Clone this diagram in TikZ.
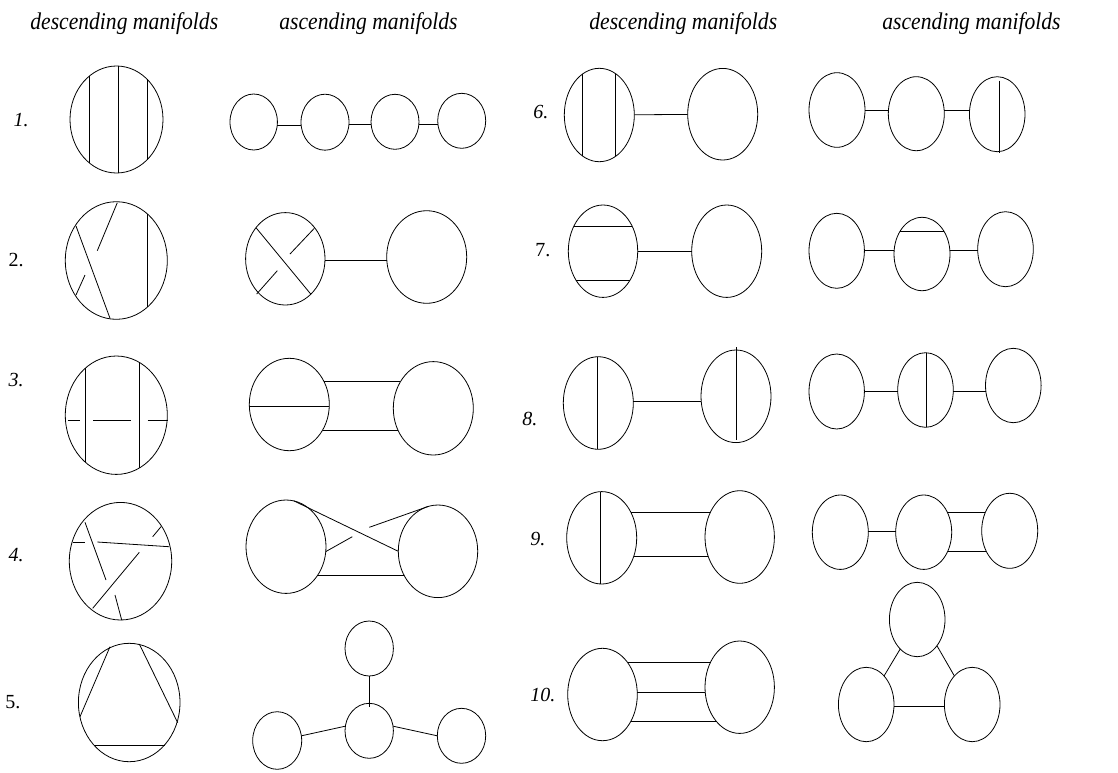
\documentclass[tikz,border=0pt]{standalone}
\usepackage{fontspec}
\usepackage{graphicx}
\setmainfont{Liberation Serif}
\usetikzlibrary{shapes.geometric}
% ellipse node that remembers its geometry
\newcommand\mkell[5]{%
  \node[ell, minimum width={2*#4pt}, minimum height={2*#5pt}] (#1) at (#2,#3) {};%
  \expandafter\gdef\csname ecx#1\endcsname{#2}%
  \expandafter\gdef\csname ecy#1\endcsname{#3}%
  \expandafter\gdef\csname erx#1\endcsname{#4}%
  \expandafter\gdef\csname ery#1\endcsname{#5}%
}
% horizontal connector from right border of #1 to left border of #2 at height #3
\newcommand\bridge[3]{%
  \pgfmathsetmacro\mybta{(#3-\csname ecy#1\endcsname)/\csname ery#1\endcsname}%
  \pgfmathsetmacro\mybxa{\csname ecx#1\endcsname+\csname erx#1\endcsname*sqrt(1-(\mybta)*(\mybta))}%
  \pgfmathsetmacro\mybtb{(#3-\csname ecy#2\endcsname)/\csname ery#2\endcsname}%
  \pgfmathsetmacro\mybxb{\csname ecx#2\endcsname-\csname erx#2\endcsname*sqrt(1-(\mybtb)*(\mybtb))}%
  \draw (\mybxa,#3) -- (\mybxb,#3);%
}
% vertical chord of ellipse #1 at x=#2
\newcommand\vchord[2]{%
  \pgfmathsetmacro\myvt{(#2-\csname ecx#1\endcsname)/\csname erx#1\endcsname}%
  \pgfmathsetmacro\myvh{\csname ery#1\endcsname*sqrt(1-(\myvt)*(\myvt))}%
  \draw (#2,{\csname ecy#1\endcsname-\myvh}) -- (#2,{\csname ecy#1\endcsname+\myvh});%
}
% horizontal chord of ellipse #1 at y=#2
\newcommand\hchord[2]{%
  \pgfmathsetmacro\myht{(#2-\csname ecy#1\endcsname)/\csname ery#1\endcsname}%
  \pgfmathsetmacro\myhw{\csname erx#1\endcsname*sqrt(1-(\myht)*(\myht))}%
  \draw ({\csname ecx#1\endcsname-\myhw},#2) -- ({\csname ecx#1\endcsname+\myhw},#2);%
}
\begin{document}
\begin{tikzpicture}[x=1pt,y=-1pt,line width=0.8pt,
  ell/.style={draw, ellipse, inner sep=0pt, outer sep=0pt},
  hdr/.style={anchor=base west, inner sep=0pt, font=\fontsize{24}{24}\selectfont\itshape},
  lab/.style={anchor=base west, inner sep=0pt, font=\fontsize{20}{20}\selectfont},
  labi/.style={lab, font=\fontsize{20}{20}\selectfont\itshape}]
\fill[white] (0,0) rectangle (1118,772);
\useasboundingbox (0,0) rectangle (1118,772);

% headers
\node[hdr] (h1) at (30,29.5) {\scalebox{0.9}[1]{descending manifolds}};
\node[hdr] (h2) at (279,29.5) {\scalebox{0.9}[1]{ascending manifolds}};
\node[hdr] (h3) at (589,29.5) {\scalebox{0.9}[1]{descending manifolds}};
\node[hdr] (h4) at (882,29.5) {\scalebox{0.9}[1]{ascending manifolds}};

% row labels
\node[labi] (n1) at (13.3,126.7) {1.};
\node[lab]  (n2) at (8.3,266.7) {2.};
\node[labi] (n3) at (8.3,386.7) {3.};
\node[labi] (n4) at (8.3,561.7) {4.};
\node[lab]  (n5) at (5,708.3) {5.};
\node[labi] (n6) at (533,118.3) {6.};
\node[lab]  (n7) at (535,256.7) {7.};
\node[labi] (n8) at (522,425) {8.};
\node[labi] (n9) at (530,545) {9.};
\node[labi] (n10) at (530,701.7) {10.};

% ---------- row 1 ----------
\mkell{d1}{116.5}{119.5}{46.5}{53.5}
\vchord{d1}{89}\vchord{d1}{118.7}\vchord{d1}{147.3}
\mkell{a1a}{253.7}{122}{23.7}{28}
\mkell{a1b}{325}{122.2}{24}{28}
\mkell{a1c}{395}{121.8}{24}{27.5}
\mkell{a1d}{461.7}{120.8}{24}{27.5}
\bridge{a1a}{a1b}{125}\bridge{a1b}{a1c}{124.3}\bridge{a1c}{a1d}{124}

% ---------- row 2 ----------
\mkell{d2}{116.3}{260.5}{51}{58.8}
\draw (76,226) -- (110,318.3);
\draw (117.3,202.7) -- (97.3,250.7);
\draw (85,275) -- (76,295);
\vchord{d2}{147.3}
\mkell{a2a}{285.3}{258.8}{39.7}{46.2}
\draw (256,227.7) -- (310.7,294);
\draw (314.3,228.3) -- (290,254);
\draw (277.3,270.7) -- (256.7,294);
\mkell{a2b}{426.7}{257}{40}{46.3}
\bridge{a2a}{a2b}{260}

% ---------- row 3 ----------
\mkell{d3}{116.3}{415.2}{51}{59.2}
\vchord{d3}{85}\vchord{d3}{139}
\draw (67.7,420.3) -- (80,420.3);
\draw (93.3,420.3) -- (130.7,420.3);
\draw (147.7,420.3) -- (168.3,420.3);
\mkell{a3a}{289.3}{404.5}{40}{46.2}
\hchord{a3a}{406}
\mkell{a3b}{433.3}{408.3}{40}{46.7}
\bridge{a3a}{a3b}{381.7}\bridge{a3a}{a3b}{430}

% ---------- row 4 ----------
\mkell{d4}{120.5}{561.2}{51.2}{58.8}
\draw (72.7,542) -- (85,542);
\draw (97.3,542) -- (169,546.7);
\draw (85,522.3) -- (106,580);
\draw (115,595) -- (121.7,620);
\draw (92.7,608.3) -- (139.3,552.3);
\draw (152.7,536.7) -- (161,526.7);
\mkell{a4a}{286}{546.7}{40}{46.7}
\mkell{a4b}{438}{551.3}{39.7}{46.3}
\draw (a4a.80.8) -- (a4b.180);
\draw (a4b.102.3) -- (369.3,527.3);
\draw (352.3,536.7) -- (a4a.-7.5);
\bridge{a4a}{a4b}{575}

% ---------- row 5 ----------
\mkell{d5}{129.2}{702.5}{50.8}{59.2}
\draw (110,646.7) -- (80,716.7);
\draw (139.3,644) -- (177.7,722.7);
\hchord{d5}{745}
\mkell{a5t}{369.2}{648.5}{24.2}{27.5}
\mkell{a5c}{369.2}{730.8}{24.2}{27.5}
\mkell{a5l}{277.2}{740.5}{24.5}{28.8}
\mkell{a5r}{461.5}{735.8}{24.2}{27.5}
\draw (a5t.south) -- ([yshift=-3.4pt]a5c.north);
\draw (a5c.169) -- (a5l.11);
\draw (a5c.11) -- (a5r.180);

% ---------- row 6 ----------
\mkell{d6a}{599.3}{115}{35}{46.7}
\vchord{d6a}{582.3}\vchord{d6a}{615.7}
\mkell{d6b}{722.7}{114.2}{35}{45.8}
\draw (d6a) -- (d6b);
\mkell{a6a}{837}{110}{28}{37.3}
\mkell{a6b}{916.3}{113.7}{28}{37}
\mkell{a6c}{997.2}{114.2}{27.8}{37.5}
\draw (999.3,80.7) -- (999.3,153.3);
\bridge{a6a}{a6b}{110}\bridge{a6b}{a6c}{110}

% ---------- row 7 ----------
\mkell{d7a}{603}{251.2}{34.7}{46.2}
\hchord{d7a}{226.7}\hchord{d7a}{280}
\mkell{d7b}{726.7}{251.2}{35}{46.2}
\draw (d7a) -- (d7b);
\mkell{a7a}{836.7}{250.8}{27.7}{37.5}
\mkell{a7b}{922}{254}{28}{36.7}
\hchord{a7b}{231.7}
\mkell{a7c}{1005.5}{249.2}{27.8}{37.5}
\bridge{a7a}{a7b}{250.7}\bridge{a7b}{a7c}{250.7}

% ---------- row 8 ----------
\mkell{d8a}{598.3}{403}{35}{46.3}
\vchord{d8a}{597.3}
\mkell{d8b}{736}{396.3}{35}{46.3}
\draw (736,347.3) -- (736,440);
\bridge{d8a}{d8b}{401}
\mkell{a8a}{836.7}{391.5}{27.7}{37.5}
\mkell{a8b}{925.5}{390}{27.8}{37.3}
\vchord{a8b}{926}
\mkell{a8c}{1013.3}{385.5}{27.8}{37.2}
\bridge{a8a}{a8b}{391}\bridge{a8b}{a8c}{391.7}

% ---------- row 9 ----------
\mkell{d9a}{601.7}{537.8}{35}{46.2}
\vchord{d9a}{600.7}
\mkell{d9b}{739.7}{537}{34.7}{46.3}
\bridge{d9a}{d9b}{512.3}\bridge{d9a}{d9b}{556.7}
\mkell{a9a}{840.3}{532.2}{28}{37.2}
\mkell{a9b}{923.7}{532.2}{28}{37.2}
\mkell{a9c}{1009.7}{530.8}{28}{37.5}
\bridge{a9a}{a9b}{531.7}
\bridge{a9b}{a9c}{512.3}\bridge{a9b}{a9c}{551.7}

% ---------- row 10 ----------
\mkell{d10a}{602.5}{694.5}{34.8}{46.2}
\mkell{d10b}{739.7}{687.2}{34.7}{46.2}
\bridge{d10a}{d10b}{662.7}\bridge{d10a}{d10b}{692.3}\bridge{d10a}{d10b}{721.7}
\mkell{a10t}{917.2}{619.5}{27.8}{37.2}
\mkell{a10l}{866.2}{704.5}{27.8}{37.2}
\mkell{a10r}{972.2}{704.5}{27.8}{37.2}
\draw (a10t.240) -- (a10l.58.8);
\draw (a10t.307.7) -- (a10r.122.3);
\bridge{a10l}{a10r}{706.7}
\end{tikzpicture}
\end{document}
